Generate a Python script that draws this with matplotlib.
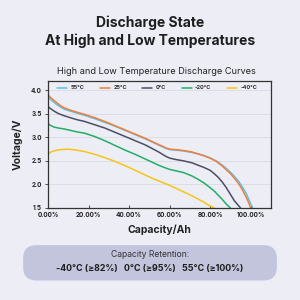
import matplotlib
matplotlib.use("Agg")
import matplotlib.pyplot as plt
from matplotlib.patches import FancyBboxPatch
from matplotlib.ticker import FuncFormatter

plt.rcParams['font.family'] = ['Inter', 'DejaVu Sans']

# ---- data ----
labels = ["55°C", "25°C", "0°C", "-20°C", "-40°C"]
colors = ["#5BC0E8", "#F07F3C", "#4B4F62", "#22AE66", "#F5C518"]

x_55 = [0.0, 0.01, 0.02, 0.04, 0.06, 0.08, 0.11, 0.14, 0.18, 0.23, 0.28, 0.33, 0.38, 0.43, 0.48,
        0.52, 0.55, 0.58, 0.60, 0.63, 0.67, 0.71, 0.74, 0.77, 0.80, 0.83, 0.86, 0.88, 0.90, 0.92,
        0.94, 0.96, 0.98, 0.995, 1.01]
y_55 = [3.86, 3.82, 3.78, 3.71, 3.65, 3.60, 3.56, 3.52, 3.47, 3.40, 3.32, 3.24, 3.15, 3.06, 2.97,
        2.89, 2.83, 2.77, 2.74, 2.73, 2.71, 2.68, 2.65, 2.61, 2.56, 2.50, 2.41, 2.34, 2.26, 2.17,
        2.07, 1.94, 1.79, 1.64, 1.50]

x_25 = [0.0, 0.01, 0.02, 0.04, 0.06, 0.08, 0.11, 0.14, 0.18, 0.23, 0.28, 0.33, 0.38, 0.43, 0.48,
        0.52, 0.55, 0.58, 0.60, 0.63, 0.67, 0.71, 0.74, 0.77, 0.80, 0.83, 0.86, 0.88, 0.90, 0.92,
        0.94, 0.96, 0.98, 0.99, 1.0]
y_25 = [3.91, 3.86, 3.82, 3.75, 3.68, 3.63, 3.58, 3.54, 3.49, 3.42, 3.34, 3.25, 3.16, 3.07, 2.98,
        2.90, 2.84, 2.78, 2.75, 2.74, 2.72, 2.69, 2.65, 2.61, 2.56, 2.49, 2.39, 2.31, 2.23, 2.13,
        2.02, 1.88, 1.71, 1.61, 1.50]

x_0 = [0.0, 0.01, 0.03, 0.05, 0.08, 0.11, 0.14, 0.18, 0.23, 0.28, 0.33, 0.38, 0.43, 0.48, 0.52,
       0.55, 0.58, 0.60, 0.63, 0.67, 0.71, 0.74, 0.77, 0.80, 0.82, 0.84, 0.86, 0.88, 0.90, 0.92,
       0.94, 0.95]
y_0 = [3.66, 3.62, 3.56, 3.51, 3.46, 3.42, 3.38, 3.34, 3.27, 3.20, 3.11, 3.02, 2.93, 2.84, 2.75,
       2.68, 2.60, 2.56, 2.53, 2.50, 2.46, 2.41, 2.36, 2.30, 2.23, 2.15, 2.05, 1.93, 1.79, 1.65,
       1.55, 1.50]

x_m20 = [0.0, 0.01, 0.03, 0.05, 0.08, 0.11, 0.14, 0.18, 0.23, 0.28, 0.33, 0.38, 0.43, 0.48, 0.52,
         0.55, 0.58, 0.60, 0.63, 0.67, 0.71, 0.74, 0.77, 0.80, 0.82, 0.84, 0.86, 0.88, 0.90]
y_m20 = [3.30, 3.26, 3.22, 3.20, 3.18, 3.15, 3.12, 3.09, 3.02, 2.93, 2.83, 2.73, 2.64, 2.54, 2.46,
         2.40, 2.35, 2.32, 2.29, 2.25, 2.18, 2.11, 2.03, 1.93, 1.86, 1.77, 1.68, 1.58, 1.50]

x_m40 = [0.0, 0.015, 0.035, 0.06, 0.10, 0.14, 0.18, 0.23, 0.28, 0.33, 0.38, 0.43, 0.48, 0.52,
         0.56, 0.60, 0.65, 0.70, 0.74, 0.77, 0.80, 0.82]
y_m40 = [2.65, 2.69, 2.72, 2.74, 2.75, 2.73, 2.70, 2.64, 2.57, 2.49, 2.40, 2.30, 2.20, 2.12,
         2.05, 1.98, 1.88, 1.78, 1.69, 1.62, 1.54, 1.50]

series_x = [x_55, x_25, x_0, x_m20, x_m40]
series_y = [y_55, y_25, y_0, y_m20, y_m40]

x_ticks = [0.0, 0.2, 0.4, 0.6, 0.8, 1.0]
y_ticks = [1.5, 2.0, 2.5, 3.0, 3.5, 4.0]

bg = "#EDEDF6"
fig = plt.figure(figsize=(3, 3), dpi=100, facecolor=bg)

fig.text(0.5, 0.923, "Discharge State", ha="center", va="center",
         fontsize=10, fontweight="bold", color="#1E1E1E")
fig.text(0.5, 0.863, "At High and Low Temperatures", ha="center", va="center",
         fontsize=10, fontweight="bold", color="#1E1E1E")

ax = fig.add_axes([0.16, 0.307, 0.743, 0.423], facecolor=bg)
fig.text(0.52, 0.76, "High and Low Temperature Discharge Curves", ha="center",
         va="center", fontsize=6.6, color="#222222")

for xs, ys, c, lab in zip(series_x, series_y, colors, labels):
    ax.plot(xs, ys, color=c, lw=1.1, label=lab, solid_joinstyle="round", solid_capstyle="round")

ax.set_xlim(0, 1.1)
ax.set_ylim(1.5, 4.2)
ax.set_xticks(x_ticks)
ax.set_yticks(y_ticks)
ax.xaxis.set_major_formatter(FuncFormatter(lambda v, p: f"{v*100:.2f}%"))
ax.yaxis.set_major_formatter(FuncFormatter(lambda v, p: f"{v:.1f}"))
ax.tick_params(axis="x", direction="in", length=2.5, width=0.6, labelsize=4.6, pad=3, colors="#333333")
ax.tick_params(axis="y", direction="out", length=2.5, width=0.6, labelsize=4.6, pad=2, colors="#333333")
for lbl in ax.get_xticklabels() + ax.get_yticklabels():
    lbl.set_fontweight("bold")
    lbl.set_color("#222222")
ax.grid(axis="y", color="#DADAE4", lw=0.6)
ax.set_axisbelow(True)
for s in ax.spines.values():
    s.set_color("#333333")
    s.set_linewidth(0.9)

ax.set_ylabel("Voltage/V", fontsize=7.5, fontweight="bold", color="#222222", labelpad=6)
ax.set_xlabel("Capacity/Ah", fontsize=7.5, fontweight="bold", color="#222222", labelpad=2)
ax.xaxis.set_label_coords(0.5, -0.13)

leg = ax.legend(loc="upper center", bbox_to_anchor=(0.49, 1.0), ncol=5, frameon=False,
                fontsize=4.0, handlelength=1.8, columnspacing=2.8, handletextpad=0.6,
                borderaxespad=0.4)
for t in leg.get_texts():
    t.set_fontweight("bold")
    t.set_color("#333333")

box = FancyBboxPatch((0.077, 0.065), 0.846, 0.118, boxstyle="round,pad=0,rounding_size=0.045",
                     transform=fig.transFigure, facecolor="#C3C5DD", edgecolor="none")
fig.patches.append(box)
fig.text(0.5, 0.152, "Capacity Retention:", ha="center", va="center", fontsize=6.2, color="#333333")
fig.text(0.5, 0.105, "-40°C (≥82%)   0°C (≥95%)   55°C (≥100%)", ha="center", va="center",
         fontsize=6.4, fontweight="bold", color="#1E1E1E")

fig.savefig("out.png", dpi=100, facecolor=bg)
